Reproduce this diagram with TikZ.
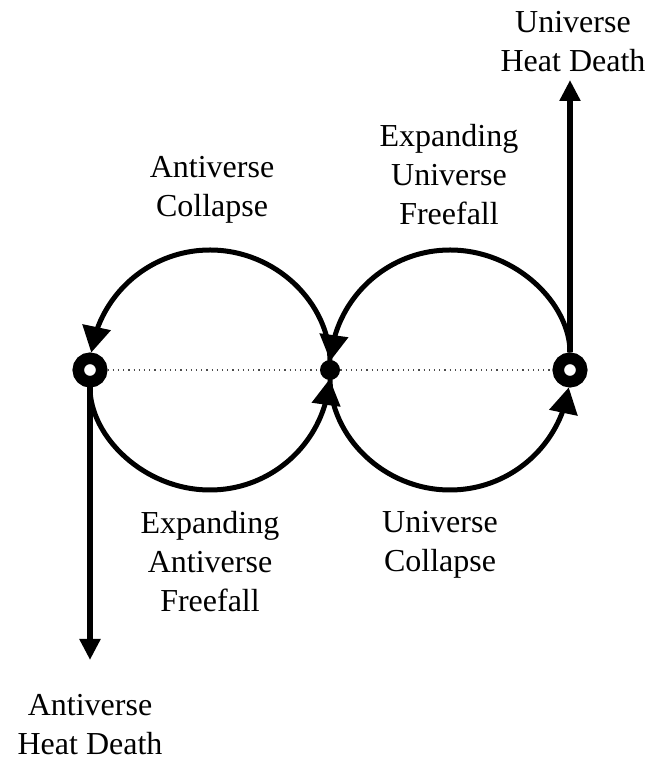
\documentclass[tikz,border=0pt]{standalone}
\usepackage{fontspec}
\setmainfont{Liberation Serif}
\usetikzlibrary{arrows.meta,bending,positioning}

\begin{document}
\begin{tikzpicture}[
  x=0.5pt, y=0.5pt,
  every node/.style={font=\fontsize{16}{19.5}\selectfont},
  label/.style={align=center, inner sep=0pt},
  ring/.style={circle, draw=black, line width=5.75pt, fill=white,
    minimum size=11.75pt, inner sep=0pt},
  dot/.style={circle, fill=black, minimum size=10pt, inner sep=0pt},
  flow/.style={-{Triangle[length=13pt,width=14pt,flex=0.6]}, line width=2.5pt},
  escape/.style={-{Triangle[length=10.5pt,width=10pt]}, line width=3pt},
  axis/.style={dotted, line width=0.6pt, draw=black!70}
]
\useasboundingbox (0,0) rectangle (649,760);

% turning points
\node[ring] (antiverse) at (90,390) {};
\node[dot] (bounce) at (330,390) {};
\node[ring] (universe) at (570,390) {};
\coordinate (universe end) at (570,680);
\coordinate (antiverse end) at (90,100);

\draw[axis] (antiverse) -- (bounce) -- (universe);

% the two loops
\draw[flow, shorten <=4pt, shorten >=8.75pt]
  (bounce) arc[start angle=0, end angle=180, radius=120];
\draw[flow, shorten <=8.75pt, shorten >=4.5pt]
  (antiverse) arc[start angle=180, end angle=360, radius=120];
\draw[flow, shorten <=8.75pt, shorten >=4.5pt]
  (universe) arc[start angle=0, end angle=180, radius=120];
\draw[flow, shorten <=4pt, shorten >=8.75pt]
  (bounce) arc[start angle=180, end angle=360, radius=120];

% heat deaths
\draw[escape] (universe) -- (universe end);
\draw[escape] (antiverse) -- (antiverse end);

% labels
\node[label] (uheat) at (573,718) {Universe\\Heat Death};
\node[label] (ufree) at (449,585) {Expanding\\Universe\\Freefall};
\node[label] (acoll) at (212,570) {Antiverse\\Collapse};
\node[label] (afree) at (210,198) {Expanding\\Antiverse\\Freefall};
\node[label] (ucoll) at (440,215) {Universe\\Collapse};
\node[label] (aheat) at (90,35) {Antiverse\\Heat Death};
\end{tikzpicture}
\end{document}
